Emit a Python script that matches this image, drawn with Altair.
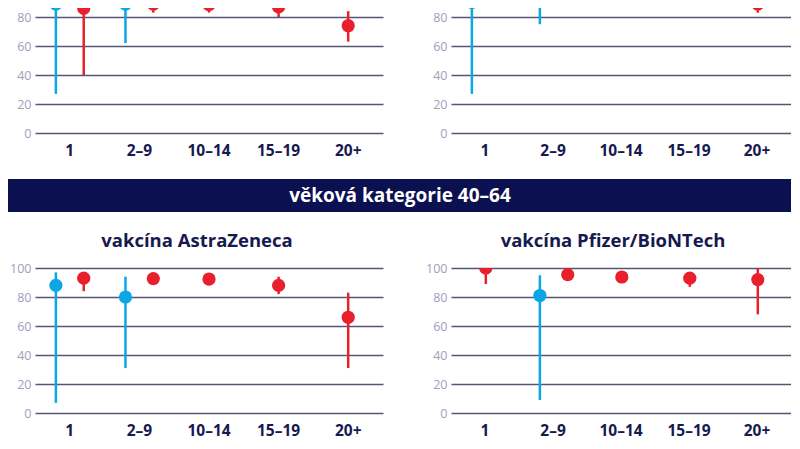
import altair as alt
import pandas as pd

# ---------------- data ----------------
CATEGORIES = ["1", "2–9", "10–14", "15–19", "20+"]

BANNER_TEXT = "věková kategorie 40–64"
TITLE_BL = "vakcína AstraZeneca"
TITLE_BR = "vakcína Pfizer/BioNTech"

# top-left panel
TL_BLUE = [89, 89, None, None, None]
TL_BLUE_LO = [27, 62, None, None, None]
TL_BLUE_HI = [99, 97, None, None, None]
TL_RED = [86, 89, 88.5, 87, 74]
TL_RED_LO = [40, 83, 83, 80, 63]
TL_RED_HI = [95, 94, 93, 92, 84]

# top-right panel
TR_BLUE = [90, 97, None, None, None]
TR_BLUE_LO = [27, 75, None, None, None]
TR_BLUE_HI = [99, 100, None, None, None]
TR_RED = [97, 96, 94, 93, 89]
TR_RED_LO = [88.5, 88, 92, 90, 83]
TR_RED_HI = [100, 98, 96, 96, 95]

# bottom-left panel (AstraZeneca)
BL_BLUE = [88, 80, None, None, None]
BL_BLUE_LO = [7, 31, None, None, None]
BL_BLUE_HI = [97, 94, None, None, None]
BL_RED = [93, 92.7, 92.4, 88, 66]
BL_RED_LO = [84, 90, 90, 82, 31]
BL_RED_HI = [96, 95, 94, 94, 83]

# bottom-right panel (Pfizer/BioNTech)
BR_BLUE = [None, 81, None, None, None]
BR_BLUE_LO = [None, 9, None, None, None]
BR_BLUE_HI = [None, 95, None, None, None]
BR_RED = [100, 95.4, 93.8, 93, 92]
BR_RED_LO = [89, 93, 92, 87, 68]
BR_RED_HI = [100, 97, 95, 96, 100]

SERIES = ["modrá", "červená"]
COLORS = ["#0aa6e6", "#e8202b"]

NAVY = "#0b1050"
TEXT_DARK = "#161a4f"
GRID = "#55557a"
YLAB = "#a0a0bb"
FONT = "Open Sans"

LEFT_W = 348
RIGHT_W = 340
AXIS_W = 27
GAP = 41
TOTAL_W = AXIS_W + LEFT_W + GAP + AXIS_W + RIGHT_W  # 783


def make_df(blue, blo, bhi, red, rlo, rhi):
    rows = []
    for i, cat in enumerate(CATEGORIES):
        both = blue[i] is not None and red[i] is not None
        for s, (v, lo, hi) in zip(SERIES, [(blue[i], blo[i], bhi[i]), (red[i], rlo[i], rhi[i])]):
            if v is None:
                continue
            if both:
                slot = "L" if s == SERIES[0] else "R"
            else:
                slot = "M"
            rows.append({"cat": cat, "series": s, "slot": slot, "v": v, "lo": lo, "hi": hi})
    return pd.DataFrame(rows)


def panel(df, ymax, yvals, height, width, title=None, title_dx=0):
    x = alt.X("cat:N", sort=CATEGORIES,
              scale=alt.Scale(domain=CATEGORIES, paddingInner=0, paddingOuter=0),
              axis=alt.Axis(title=None, labelAngle=0, ticks=False, domain=False,
                            labelFont=FONT, labelFontSize=15.5, labelFontWeight="bold",
                            labelColor=TEXT_DARK, labelBaseline="middle", labelPadding=17,
                            minExtent=30, maxExtent=30))
    xo = alt.XOffset("slot:N", scale=alt.Scale(domain=["L", "M", "R"], paddingInner=0, paddingOuter=1))
    y_scale = alt.Scale(domain=[0, ymax], nice=False)
    y_axis = alt.Axis(title=None, values=yvals, tickCount=len(yvals), ticks=False, domain=False,
                      grid=True, gridColor=GRID, gridWidth=1.6, labelOverlap=False,
                      labelFont=FONT, labelFontSize=12.5, labelColor=YLAB,
                      labelPadding=4, minExtent=AXIS_W, maxExtent=AXIS_W)
    color = alt.Color("series:N", scale=alt.Scale(domain=SERIES, range=COLORS), legend=None)
    base = alt.Chart(df)
    rules = base.mark_rule(strokeWidth=2.5, clip=True).encode(
        x=x, xOffset=xo,
        y=alt.Y("lo:Q", scale=y_scale, axis=y_axis),
        y2="hi:Q", color=color)
    pts = base.mark_circle(size=175, opacity=1, clip=True).encode(
        x=x, xOffset=xo, y=alt.Y("v:Q", scale=y_scale, axis=y_axis), color=color)
    props = dict(width=width, height=height)
    if title is not None:
        props["title"] = alt.TitleParams(title, font=FONT, fontSize=18.5, fontWeight="bold",
                                         color=TEXT_DARK, anchor="middle", dx=title_dx, offset=12)
    return alt.layer(rules, pts).properties(**props)


TOP_H = 125
TOP_MAX = TOP_H / 1.45
tl = panel(make_df(TL_BLUE, TL_BLUE_LO, TL_BLUE_HI, TL_RED, TL_RED_LO, TL_RED_HI),
           TOP_MAX, [0, 20, 40, 60, 80], TOP_H, LEFT_W)
tr = panel(make_df(TR_BLUE, TR_BLUE_LO, TR_BLUE_HI, TR_RED, TR_RED_LO, TR_RED_HI),
           TOP_MAX, [0, 20, 40, 60, 80], TOP_H, RIGHT_W)
bl = panel(make_df(BL_BLUE, BL_BLUE_LO, BL_BLUE_HI, BL_RED, BL_RED_LO, BL_RED_HI),
           100, [0, 20, 40, 60, 80, 100], 145, LEFT_W, TITLE_BL, -12)
br = panel(make_df(BR_BLUE, BR_BLUE_LO, BR_BLUE_HI, BR_RED, BR_RED_LO, BR_RED_HI),
           100, [0, 20, 40, 60, 80, 100], 145, RIGHT_W, TITLE_BR, -8)

banner_df = pd.DataFrame({"label": [BANNER_TEXT]})
banner_rect = alt.Chart(banner_df).mark_rect(color=NAVY).encode(
    x=alt.value(-AXIS_W), x2=alt.value(TOTAL_W - AXIS_W), y=alt.value(0), y2=alt.value(33))
banner_text = alt.Chart(banner_df).mark_text(
    font=FONT, fontSize=19, fontWeight="bold", color="white", baseline="middle", align="center"
).encode(x=alt.value(392 - AXIS_W), y=alt.value(17), text="label:N")
banner = alt.layer(banner_rect, banner_text).properties(width=TOTAL_W - 2 * AXIS_W, height=36)

top_row = alt.hconcat(tl, tr, spacing=GAP)
bottom_row = alt.hconcat(bl, br, spacing=GAP)

chart = alt.vconcat(top_row, banner, bottom_row, spacing=16).properties(
    padding=0, background="white"
).configure_view(stroke=None)

chart.save("out.html", embed_options={"renderer": "svg", "actions": False})
